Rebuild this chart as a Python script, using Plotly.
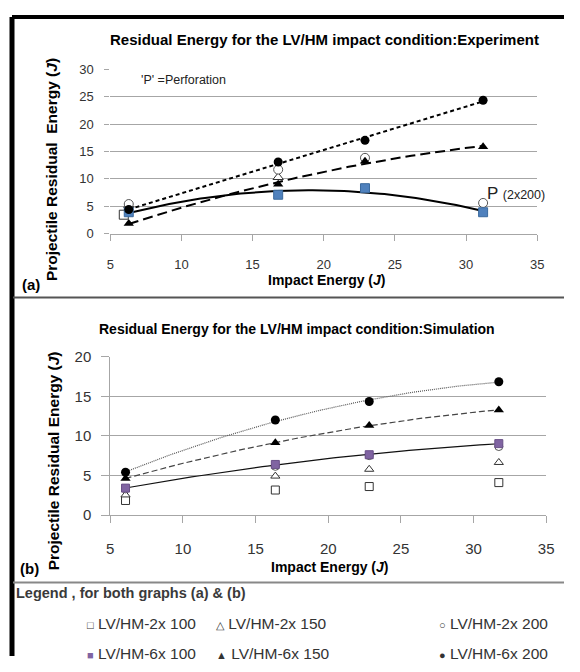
import numpy as np
import plotly.graph_objects as go

# ---------------- data ----------------
series_names = ["LV/HM-2x 100", "LV/HM-2x 150", "LV/HM-2x 200",
                "LV/HM-6x 100", "LV/HM-6x 150", "LV/HM-6x 200"]

# (a) Experiment
exp_x = [6.3, 16.8, 22.9, 31.2]
exp_2x100_x = [5.95]
exp_2x100 = [3.45]
exp_2x150_x = [6.3, 16.8]
exp_2x150 = [5.2, 10.3]
exp_2x200 = [5.4, 11.7, 13.85, 5.6]
exp_6x100 = [3.9, 7.1, 8.3, 3.9]
exp_6x150 = [1.85, 9.0, 13.25, 15.9]
exp_6x200 = [4.4, 13.1, 17.05, 24.4]

# (b) Simulation
sim_x = [6.05, 16.36, 22.82, 31.74]
sim_2x100 = [1.84, 3.16, 3.6, 4.1]
sim_2x150 = [2.54, 4.92, 5.78, 6.64]
sim_2x200 = [3.3, 6.15, 7.5, 8.65]
sim_6x100 = [3.4, 6.39, 7.62, 9.02]
sim_6x150 = [4.63, 9.14, 11.3, 13.28]
sim_6x200 = [5.41, 12.0, 14.34, 16.84]

x_ticks = [5, 10, 15, 20, 25, 30, 35]
ya_ticks = [0, 5, 10, 15, 20, 25, 30]
yb_ticks = [0, 5, 10, 15, 20]

# ---------------- layout helpers ----------------
# the page body keeps its default 8px margin, so the figure is 16px smaller
OFF = 8
W, H = 580 - 2 * OFF, 672 - 2 * OFF
FONT = "Liberation Sans, Arial, sans-serif"
def px(x): return (x - OFF) / W
def py(y): return 1 - (y - OFF) / H

BLUE = "#4F81BD"
PURPLE = "#8064A2"

fig = go.Figure()

def trend(xs, ys, deg):
    c = np.polyfit(xs, ys, deg)
    xx = np.linspace(min(xs), max(xs), 80)
    return xx, np.polyval(c, xx)

# ---------------- (a) ----------------
for ys, dash, deg in [(exp_6x100, "solid", 2), (exp_6x150, "10px,5px", 2), (exp_6x200, "4px,3px", 1)]:
    xx, yy = trend(exp_x, ys, deg)
    fig.add_trace(go.Scatter(x=xx, y=yy, mode="lines", line=dict(color="black", width=2, dash=dash),
                             xaxis="x", yaxis="y", showlegend=False, hoverinfo="skip"))

fig.add_trace(go.Scatter(x=exp_2x100_x, y=exp_2x100, mode="markers", name=series_names[0],
                         marker=dict(symbol="square", size=9, color="white", line=dict(color="#333", width=1)),
                         xaxis="x", yaxis="y", showlegend=False))
fig.add_trace(go.Scatter(x=exp_2x150_x, y=exp_2x150, mode="markers", name=series_names[1],
                         marker=dict(symbol="triangle-up", size=9, color="white", line=dict(color="#333", width=1)),
                         xaxis="x", yaxis="y", showlegend=False))
fig.add_trace(go.Scatter(x=exp_x, y=exp_2x200, mode="markers", name=series_names[2],
                         marker=dict(symbol="circle", size=9, color="white", line=dict(color="#555", width=1)),
                         xaxis="x", yaxis="y", showlegend=False))
fig.add_trace(go.Scatter(x=exp_x, y=exp_6x100, mode="markers", name=series_names[3],
                         marker=dict(symbol="square", size=9, color=BLUE, line=dict(color="#3a6a9e", width=1)),
                         xaxis="x", yaxis="y", showlegend=False))
fig.add_trace(go.Scatter(x=exp_x, y=exp_6x150, mode="markers", name=series_names[4],
                         marker=dict(symbol="triangle-up", size=9, color="black"),
                         xaxis="x", yaxis="y", showlegend=False))
fig.add_trace(go.Scatter(x=exp_x, y=exp_6x200, mode="markers", name=series_names[5],
                         marker=dict(symbol="circle", size=9, color="black"),
                         xaxis="x", yaxis="y", showlegend=False))

# ---------------- (b) ----------------
for ys, dash, col in [(sim_6x100, "solid", "#111"), (sim_6x150, "6px,3px", "#444"), (sim_6x200, "1px,1px", "#555")]:
    xx, yy = trend(sim_x, ys, 2)
    fig.add_trace(go.Scatter(x=xx, y=yy, mode="lines", line=dict(color=col, width=1.2, dash=dash),
                             xaxis="x2", yaxis="y2", showlegend=False, hoverinfo="skip"))

fig.add_trace(go.Scatter(x=sim_x, y=sim_2x100, mode="markers", name=series_names[0],
                         marker=dict(symbol="square", size=8, color="white", line=dict(color="#333", width=1)),
                         xaxis="x2", yaxis="y2", showlegend=False))
fig.add_trace(go.Scatter(x=sim_x, y=sim_2x150, mode="markers", name=series_names[1],
                         marker=dict(symbol="triangle-up", size=8, color="white", line=dict(color="#333", width=1)),
                         xaxis="x2", yaxis="y2", showlegend=False))
fig.add_trace(go.Scatter(x=sim_x, y=sim_2x200, mode="markers", name=series_names[2],
                         marker=dict(symbol="circle", size=8, color="white", line=dict(color="#555", width=1)),
                         xaxis="x2", yaxis="y2", showlegend=False))
fig.add_trace(go.Scatter(x=sim_x, y=sim_6x100, mode="markers", name=series_names[3],
                         marker=dict(symbol="square", size=8, color=PURPLE, line=dict(color="#6a5088", width=1)),
                         xaxis="x2", yaxis="y2", showlegend=False))
fig.add_trace(go.Scatter(x=sim_x, y=sim_6x150, mode="markers", name=series_names[4],
                         marker=dict(symbol="triangle-up", size=9, color="black"),
                         xaxis="x2", yaxis="y2", showlegend=False))
fig.add_trace(go.Scatter(x=sim_x, y=sim_6x200, mode="markers", name=series_names[5],
                         marker=dict(symbol="circle", size=9, color="black"),
                         xaxis="x2", yaxis="y2", showlegend=False))

GRID = "#a6a6a6"
axis_common = dict(showgrid=False, zeroline=False, ticks="outside", tickcolor=GRID,
                   showline=True, linecolor=GRID, linewidth=1, fixedrange=True)

fig.update_layout(
    width=W, height=H, margin=dict(l=0, r=0, t=0, b=0),
    paper_bgcolor="white", plot_bgcolor="white",
    font=dict(family=FONT, color="#333"),
    xaxis=dict(domain=[px(108.4), px(544.6)], range=[5, 35], tickvals=x_ticks, anchor="y",
               ticklen=6, tickfont=dict(size=13, color="#333"), ticklabelstandoff=13, **axis_common),
    yaxis=dict(domain=[py(230.3), py(62)], range=[0, 30], tickvals=ya_ticks, anchor="x",
               showgrid=True, gridcolor=GRID, gridwidth=1, zeroline=False, showline=False,
               ticks="outside", ticklen=5, tickcolor=GRID, ticklabelstandoff=8,
               tickfont=dict(size=13, color="#333"), fixedrange=True),
    xaxis2=dict(domain=[px(108.4), px(553.8)], range=[5, 35], tickvals=x_ticks, anchor="y2",
                ticklen=7, tickfont=dict(size=15, color="#333"), ticklabelstandoff=13, **axis_common),
    yaxis2=dict(domain=[py(519.3), py(356.7)], range=[0, 20], tickvals=yb_ticks, anchor="x2",
                showgrid=True, gridcolor=GRID, gridwidth=1, zeroline=False, showline=True,
                linecolor=GRID, ticks="outside", ticklen=8, tickcolor=GRID, ticklabelstandoff=7,
                tickfont=dict(size=15, color="#333"), fixedrange=True),
)

ann = []
def note(x, y, text, size, bold=False, color="#000", xanchor="center", textangle=0, xref="paper", yref="paper"):
    t = f"<b>{text}</b>" if bold else text
    ann.append(dict(x=x, y=y, xref=xref, yref=yref, text=t, showarrow=False, xanchor=xanchor,
                    yanchor="middle", textangle=textangle, font=dict(size=size, color=color, family=FONT)))

# (a) texts
note(px(327), py(31.5), "Residual Energy for the LV/HM impact condition:Experiment", 15, bold=True)
note(px(330), py(278), "Impact Energy (<i>J</i>)", 14, bold=True)
note(px(49), py(165), "Projectile Residual  Energy (<i>J</i>)", 15.5, bold=True, textangle=-90)
note(px(16), py(283), "(a)", 15, bold=True, xanchor="left")
note(7.0, 28.1, "'P' =Perforation", 12.5, color="#222", xanchor="left", xref="x", yref="y")
note(31.35, 7.4, "P <span style='font-size:12.5px'>(2x200)</span>", 17, color="#222", xanchor="left", xref="x", yref="y")

# (b) texts
note(px(299), py(328), "Residual Energy for the LV/HM impact condition:Simulation", 14, bold=True)
note(px(333), py(573), "Impact Energy (<i>J</i>)", 14, bold=True)
note(px(50), py(464), "Projectile Residual Energy (<i>J</i>)", 15.5, bold=True, textangle=-90)
note(px(14), py(574), "(b)", 15, bold=True, xanchor="left")

# legend block
note(px(10), py(599), "Legend , for both graphs (a) & (b)", 14.5, bold=True, color="#3a3a3a", xanchor="left")
symbols = ["□", "△", "○", "<span style='color:%s'>■</span>" % PURPLE, "▲", "●"]
col_x = [83, 214, 442]
row_y = [631, 661]
for i, name in enumerate(series_names):
    r, c = divmod(i, 3)
    note(px(col_x[c]), py(row_y[r]),
         f"<span style='font-size:11px'>{symbols[i]}</span> {name}", 15.5, color="#333", xanchor="left")

fig.update_layout(annotations=ann)

# frame / separators
shapes = [
    dict(type="line", xref="paper", yref="paper", x0=0, x1=0, y0=1, y1=0,
         line=dict(color="black", width=5)),
    dict(type="line", xref="paper", yref="paper", x0=0, x1=1, y0=1, y1=1,
         line=dict(color="black", width=4)),
    dict(type="line", xref="paper", yref="paper", x0=px(9), x1=1, y0=py(296), y1=py(296),
         line=dict(color="#555", width=2)),
    dict(type="line", xref="paper", yref="paper", x0=px(9), x1=1, y0=py(588.5), y1=py(588.5),
         line=dict(color="#888", width=2)),
]
fig.update_layout(shapes=shapes)

fig.write_html("out.html")
